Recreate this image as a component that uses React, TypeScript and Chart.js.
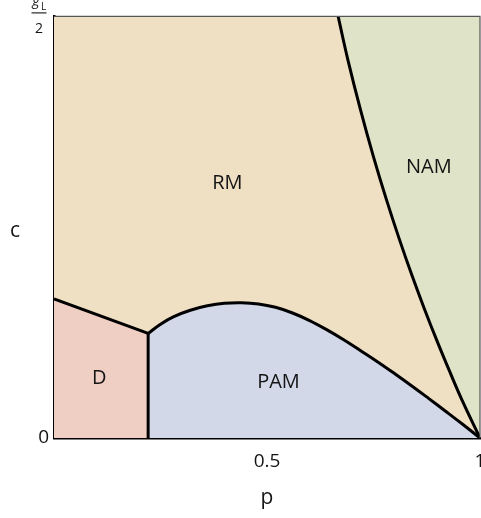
import React, { useEffect, useRef } from 'react';
import { Chart, registerables } from 'chart.js';

Chart.register(...registerables);

// Phase boundaries (p on x, c on y in units of g_L/2)
const namBoundaryP = [0.667, 0.69, 0.72, 0.75, 0.78, 0.81, 0.84, 0.87, 0.9, 0.93, 0.96, 1.0];
const namBoundaryC = [1.0, 0.8965, 0.7765, 0.667, 0.5665, 0.4735, 0.3865, 0.305, 0.228, 0.155, 0.085, 0];

const pamBoundaryP = [0.221, 0.25, 0.28, 0.32, 0.36, 0.4, 0.44, 0.48, 0.52, 0.56, 0.6, 0.64, 0.68, 0.72, 0.76, 0.8, 0.84, 0.88, 0.92, 0.96, 1.0];
const pamBoundaryC = [0.248, 0.27, 0.2875, 0.303, 0.3135, 0.3195, 0.3208, 0.318, 0.31, 0.2965, 0.2785, 0.257, 0.233, 0.207, 0.1805, 0.1525, 0.1235, 0.0935, 0.063, 0.032, 0];

const dBoundaryP = [0, 0.221];
const dBoundaryC = [0.33, 0.248];

const dpamBoundaryP = [0.221, 0.221];
const dpamBoundaryC = [0, 0.248];

const regionNames = ['RM', 'NAM', 'D', 'PAM'];
const regionLabelP = [0.407, 0.88, 0.106, 0.527];
const regionLabelC = [0.603, 0.643, 0.141, 0.131];

const xTickValues = [0.5, 1];
const xTickLabels = ['0.5', '1'];
const yTickValues = [0, 1];
const yTickLabels = ['0', ''];

const COLORS = {
  RM: '#EFDFC3',
  NAM: '#DFE3C7',
  PAM: '#D3D8E8',
  D: '#EFCFC4',
};

const TEXT = '#141414';
const FONT = '"Open Sans", "DejaVu Sans", sans-serif';

const zip = (xs: number[], ys: number[]) => xs.map((x, i) => ({ x, y: ys[i] }));

const overlayPlugin = {
  id: 'overlay',
  afterDatasetsDraw(chart: any) {
    const { ctx, chartArea, scales } = chart;
    const xs = scales.x;
    const ys = scales.y;
    ctx.save();
    // region labels
    ctx.fillStyle = TEXT;
    ctx.font = `20px ${FONT}`;
    ctx.textAlign = 'center';
    ctx.textBaseline = 'middle';
    regionNames.forEach((name, i) => {
      ctx.fillText(name, xs.getPixelForValue(regionLabelP[i]), ys.getPixelForValue(regionLabelC[i]));
    });
    // top and right frame
    ctx.strokeStyle = '#555';
    ctx.lineWidth = 1.2;
    ctx.beginPath();
    ctx.moveTo(chartArea.left, chartArea.top);
    ctx.lineTo(chartArea.right, chartArea.top);
    ctx.lineTo(chartArea.right, chartArea.bottom);
    ctx.stroke();
    ctx.restore();
  },
  afterDraw(chart: any) {
    const { ctx, chartArea, scales } = chart;
    const ys = scales.y;
    ctx.save();
    ctx.fillStyle = TEXT;
    // y axis title, upright
    ctx.font = `21px ${FONT}`;
    ctx.textAlign = 'center';
    ctx.textBaseline = 'alphabetic';
    ctx.fillText('c', chartArea.left - 39, ys.getPixelForValue(0.5) + 10);
    // top tick label: g_L / 2
    const top = ys.getPixelForValue(1);
    const cx = chartArea.left - 15;
    ctx.font = `italic 14px ${FONT}`;
    ctx.textAlign = 'center';
    ctx.fillText('g', cx - 3, top - 11);
    ctx.font = `10px ${FONT}`;
    ctx.fillText('L', cx + 4.5, top - 6);
    ctx.strokeStyle = TEXT;
    ctx.lineWidth = 1.1;
    ctx.beginPath();
    ctx.moveTo(cx - 7.5, top - 3.5);
    ctx.lineTo(cx + 7.5, top - 3.5);
    ctx.stroke();
    ctx.font = `14px ${FONT}`;
    ctx.fillText('2', cx, top + 17);
    ctx.restore();
  },
};

export default function App() {
  const canvasRef = useRef<HTMLCanvasElement | null>(null);

  useEffect(() => {
    if (!canvasRef.current) return;
    const lineStyle = {
      borderColor: '#000',
      borderWidth: 3,
      pointRadius: 0,
      tension: 0.4,
    };
    const chart = new Chart(canvasRef.current, {
      type: 'line',
      data: {
        datasets: [
          {
            label: 'RM',
            data: [{ x: 0, y: 1 }, { x: 1, y: 1 }],
            fill: 'origin',
            backgroundColor: COLORS.RM,
            borderWidth: 0,
            pointRadius: 0,
            order: 10,
          },
          {
            label: 'NAM',
            data: zip(namBoundaryP, namBoundaryC),
            fill: 'end',
            backgroundColor: COLORS.NAM,
            order: 5,
            ...lineStyle,
          },
          {
            label: 'PAM',
            data: zip(pamBoundaryP, pamBoundaryC),
            fill: 'origin',
            backgroundColor: COLORS.PAM,
            order: 4,
            ...lineStyle,
          },
          {
            label: 'D',
            data: zip(dBoundaryP, dBoundaryC),
            fill: 'origin',
            backgroundColor: COLORS.D,
            order: 3,
            ...lineStyle,
            tension: 0,
          },
          {
            label: 'D-PAM',
            data: zip(dpamBoundaryP, dpamBoundaryC),
            fill: false,
            order: 2,
            ...lineStyle,
            tension: 0,
          },
        ],
      },
      options: {
        animation: false,
        responsive: false,
        devicePixelRatio: 1,
        parsing: false as any,
        layout: { padding: { left: 0, right: 20, top: 13.5, bottom: 0 } },
        plugins: {
          legend: { display: false },
          tooltip: { enabled: false },
        },
        scales: {
          x: {
            type: 'linear',
            min: 0,
            max: 1,
            z: 1,
            afterBuildTicks: (s: any) => {
              s.ticks = xTickValues.map((v) => ({ value: v }));
            },
            afterFit: (s: any) => {
              s.height = 80;
            },
            ticks: {
              padding: 12,
              color: TEXT,
              font: { family: FONT, size: 19 },
              maxRotation: 0,
              callback: (v: any) => {
                const i = xTickValues.indexOf(Number(v));
                return i >= 0 ? xTickLabels[i] : '';
              },
            },
            grid: { display: false, drawTicks: false },
            border: { display: true, color: '#000', width: 2.5 },
            title: {
              display: true,
              text: 'p',
              color: TEXT,
              font: { family: FONT, size: 21 },
              padding: { top: 0, bottom: 7 },
            },
          },
          y: {
            type: 'linear',
            min: 0,
            max: 1,
            z: 1,
            afterBuildTicks: (s: any) => {
              s.ticks = yTickValues.map((v) => ({ value: v }));
            },
            afterFit: (s: any) => {
              s.width = 54;
            },
            ticks: {
              padding: 5,
              color: TEXT,
              font: { family: FONT, size: 19 },
              callback: (v: any) => {
                const i = yTickValues.indexOf(Number(v));
                return i >= 0 ? yTickLabels[i] : '';
              },
            },
            grid: { display: false, drawTicks: false },
            border: { display: true, color: '#000', width: 2.5 },
            title: { display: false },
          },
        },
      },
      plugins: [overlayPlugin],
    });
    return () => chart.destroy();
  }, []);

  return (
    <div
      style={{
        position: 'fixed',
        left: 0,
        top: 0,
        width: 481,
        height: 518,
        overflow: 'hidden',
        background: '#fff',
      }}
    >
      <canvas ref={canvasRef} width={500} height={518} style={{ width: 500, height: 518, display: 'block' }} />
    </div>
  );
}
